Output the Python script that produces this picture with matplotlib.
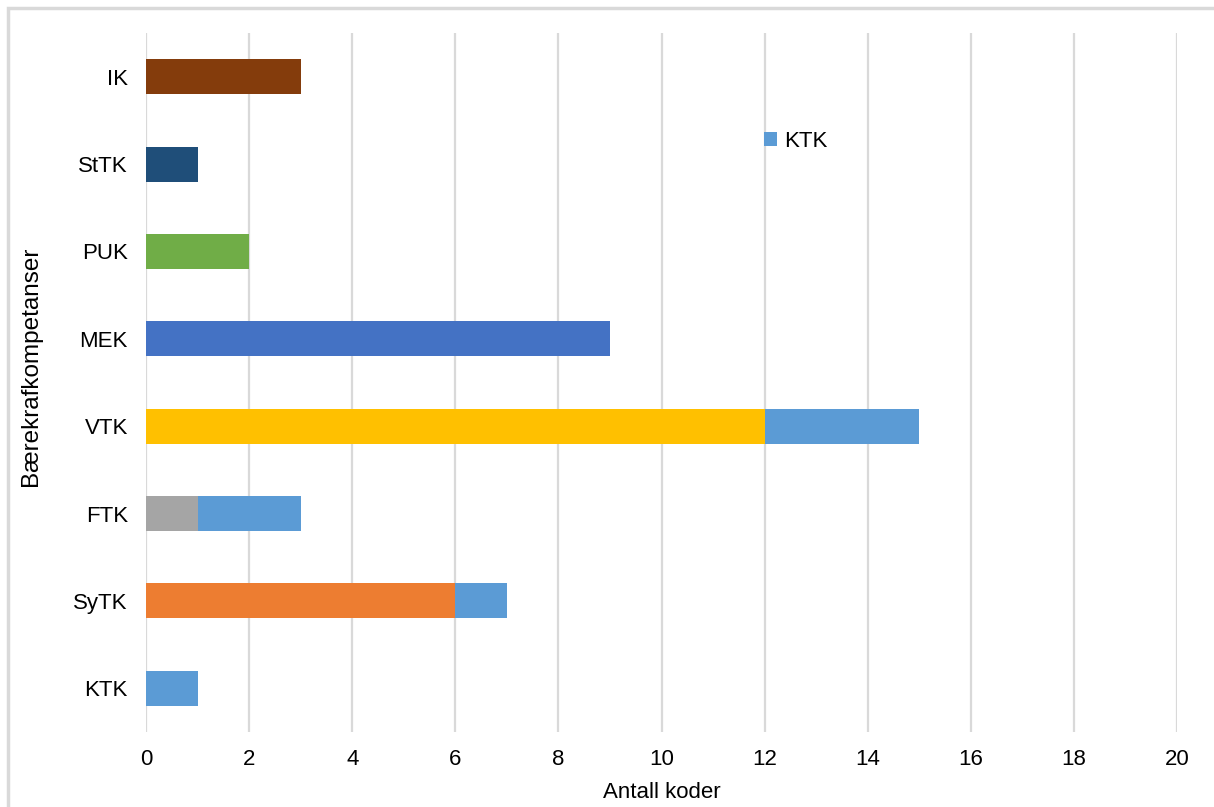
import numpy as np
import matplotlib.pyplot as plt
import matplotlib.patches as mpatches

plt.rcParams['font.family'] = ['Liberation Sans', 'DejaVu Sans']

categories = ['IK', 'StTK', 'PUK', 'MEK', 'VTK', 'FTK', 'SyTK', 'KTK']
own_values = [3, 1, 2, 9, 12, 1, 6, 0]
ktk_values = [0, 0, 0, 0, 3, 2, 1, 1]
own_colors = ['#843C0C', '#1F4E79', '#70AD47', '#4472C4',
              '#FFC000', '#A5A5A5', '#ED7D31', '#5B9BD5']
ktk_color = '#5B9BD5'
x_ticks = list(range(0, 21, 2))

fig = plt.figure(figsize=(12.14, 8.07), dpi=100)

# light frame around the chart area
frame = mpatches.Rectangle((8 / 1214, -0.01), 1.0, 1 - 8 / 807 + 0.01,
                           transform=fig.transFigure, fill=False,
                           edgecolor='#d9d9d9', linewidth=2.5)
fig.patches.append(frame)

ax = fig.add_axes([146 / 1214, 1 - 732 / 807, (1177 - 146) / 1214, (732 - 33) / 807])

y = np.arange(len(categories))
ax.barh(y, own_values, height=0.4, color=own_colors, zorder=3)
ax.barh(y, ktk_values, left=own_values, height=0.4, color=ktk_color,
        zorder=3, label='KTK')

ax.set_ylim(len(categories) - 0.5, -0.5)
ax.set_xlim(0, 20)
ax.set_yticks(y)
ax.set_yticklabels(categories)
ax.set_xticks(x_ticks)
ax.tick_params(axis='both', length=0, labelsize=16, colors='#000000')
ax.tick_params(axis='y', pad=13)
ax.tick_params(axis='x', pad=12)
ax.grid(axis='x', color='#d9d9d9', linewidth=1.6, zorder=0)
for s in ax.spines.values():
    s.set_visible(False)

ax.set_xlabel('Antall koder', fontsize=16, labelpad=9)
fig.text(31 / 1214, 1 - 366 / 807, 'Bærekrafkompetanser', rotation=90,
         fontsize=17.5, ha='center', va='center')

ax.legend(loc='upper left', bbox_to_anchor=(0.58, 0.889), frameon=False,
          fontsize=16, handlelength=0.6, handleheight=0.6, handletextpad=0.3)

fig.savefig('out.png', dpi=100)
